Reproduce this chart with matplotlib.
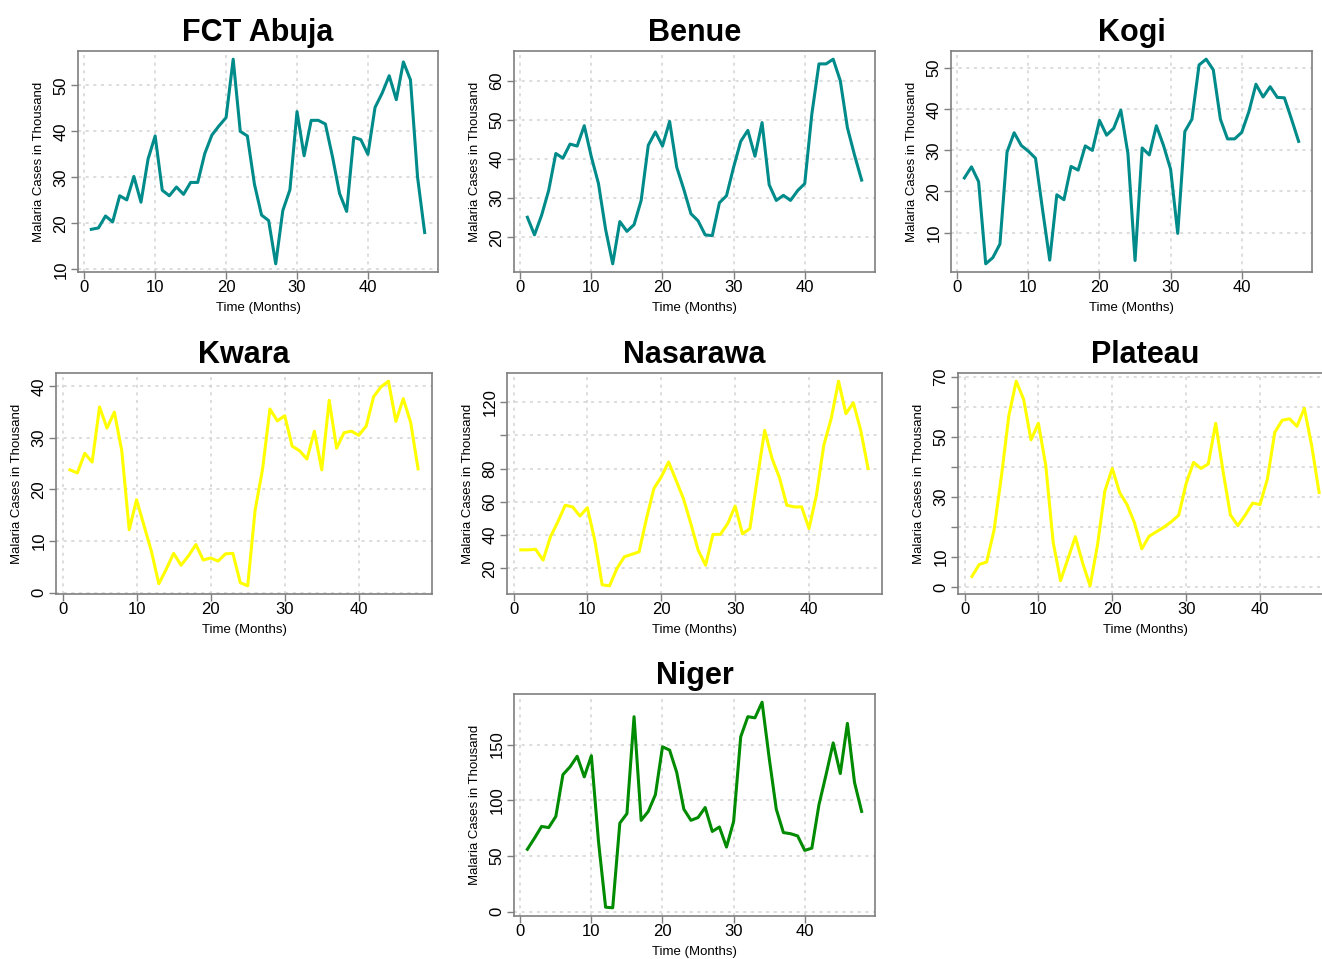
import numpy as np
import matplotlib
matplotlib.use("Agg")
import matplotlib.pyplot as plt

plt.rcParams["font.family"] = ["Liberation Sans", "DejaVu Sans"]

# monthly malaria cases (thousands), months 1..48
months = np.arange(1, 49)

fct_abuja = [18.7, 19.0, 21.6, 20.3, 26.0, 25.1, 30.2, 24.6, 34.0, 39.0,
             27.2, 26.0, 27.9, 26.3, 28.9, 28.9, 35.2, 39.2, 41.2, 43.0,
             55.7, 40.0, 39.0, 28.5, 21.8, 20.6, 11.2, 22.8, 27.3, 44.3,
             34.7, 42.4, 42.4, 41.6, 34.5, 26.5, 22.6, 38.7, 38.2, 35.0,
             45.2, 48.3, 52.1, 46.9, 55.1, 51.2, 30.0, 18.0]
benue = [25.1, 20.6, 25.6, 32.0, 41.4, 40.2, 43.8, 43.3, 48.5, 40.5,
         33.7, 22.0, 13.2, 24.0, 21.5, 23.2, 29.4, 43.5, 46.9, 43.3,
         49.6, 37.9, 32.2, 26.0, 24.2, 20.6, 20.4, 28.8, 30.6, 37.9,
         44.5, 47.3, 40.7, 49.3, 33.4, 29.4, 30.7, 29.4, 31.9, 33.7,
         51.5, 64.3, 64.3, 65.5, 60.0, 48.0, 41.0, 34.6]
kogi = [23.3, 26.0, 22.4, 2.4, 3.9, 7.2, 29.6, 34.3, 31.2, 29.8,
        28.1, 15.5, 3.3, 19.2, 18.0, 26.1, 25.2, 31.1, 30.0, 37.3,
        33.7, 35.4, 39.8, 29.2, 3.2, 30.6, 28.9, 36.0, 31.2, 25.4,
        9.8, 34.6, 37.6, 50.8, 52.2, 49.6, 37.6, 32.8, 32.8, 34.4,
        39.4, 46.1, 43.0, 45.5, 42.9, 42.8, 37.6, 32.2]
kwara = [23.8, 23.2, 27.0, 25.3, 36.0, 31.9, 35.0, 27.5, 12.2, 18.0,
         13.0, 8.0, 1.7, 4.5, 7.6, 5.3, 7.1, 9.3, 6.3, 6.7,
         6.1, 7.5, 7.6, 1.9, 1.3, 16.0, 23.9, 35.6, 33.3, 34.3,
         28.4, 27.5, 25.9, 31.3, 23.8, 37.3, 28.0, 31.0, 31.3, 30.5,
         32.3, 38.0, 39.9, 41.0, 33.2, 37.6, 33.0, 24.0]
nasarawa = [31.2, 31.2, 31.5, 25.0, 39.0, 48.0, 58.0, 57.0, 51.5, 56.5,
            37.0, 10.2, 9.6, 20.0, 27.0, 28.5, 30.0, 50.0, 68.0, 75.0,
            84.0, 73.0, 62.0, 47.0, 31.0, 22.0, 40.5, 40.5, 47.0, 57.5,
            40.8, 44.0, 74.0, 103.0, 86.0, 74.5, 58.0, 57.0, 57.0, 44.0,
            64.0, 94.0, 110.0, 132.5, 113.0, 119.5, 103.0, 80.0]
plateau = [3.6, 7.6, 8.4, 19.0, 37.0, 57.0, 68.5, 62.5, 49.0, 54.5,
           40.5, 15.0, 2.2, 9.5, 16.8, 8.0, 0.5, 14.0, 32.0, 39.5,
           31.5, 27.5, 21.5, 12.8, 17.0, 18.5, 20.0, 21.8, 24.0, 34.5,
           41.5, 39.5, 41.0, 54.5, 38.5, 24.0, 20.5, 24.0, 28.0, 27.5,
           36.0, 51.5, 55.5, 56.0, 53.5, 59.5, 47.0, 31.5]
niger = [56, 66, 76.5, 75.5, 85.5, 123, 130, 139.5, 121, 140,
         63, 4, 3.5, 79.5, 88, 175, 82, 90, 105, 148,
         145, 125, 92, 82, 84.5, 93.5, 72, 76, 58, 81,
         157, 175, 174, 188, 138, 92, 71, 70, 68, 55,
         57, 96, 123, 151.5, 124, 169, 116, 90]

teal = "#008B8B"
yellow = "#FFFF00"
green = "#008B00"

# (title, data, colour, y ticks, shown y tick labels, box in pixels L,R,T,B)
panels = [
    ("FCT Abuja", fct_abuja, teal, [10, 20, 30, 40, 50], None, (78, 438, 51, 272)),
    ("Benue", benue, teal, [20, 30, 40, 50, 60], None, (514, 875, 51, 272)),
    ("Kogi", kogi, teal, [10, 20, 30, 40, 50], None, (951, 1312, 51, 272)),
    ("Kwara", kwara, yellow, [0, 10, 20, 30, 40], None, (56, 432, 373, 594)),
    ("Nasarawa", nasarawa, yellow, [20, 40, 60, 80, 100, 120],
     [20, 40, 60, 80, 120], (507, 882, 373, 594)),
    ("Plateau", plateau, yellow, [0, 10, 20, 30, 40, 50, 60, 70],
     [0, 10, 30, 50, 70], (958, 1333, 373, 594)),
    ("Niger", niger, green, [0, 50, 100, 150], None, (514, 875, 694, 916)),
]

W, H = 1322, 959
fig = plt.figure(figsize=(W / 100, H / 100), dpi=100)

for title, data, col, yt, shown, (l, r, t, b) in panels:
    ax = fig.add_axes([l / W, (H - b) / H, (r - l) / W, (b - t) / H])
    ax.plot(months, data, color=col, lw=2.2)
    ax.margins(x=0.04, y=0.04)
    ax.set_xticks([0, 10, 20, 30, 40])
    ax.set_yticks(yt)
    labels = [str(v) if (shown is None or v in shown) else "" for v in yt]
    ax.set_yticklabels(labels, rotation=90, va="center")
    ax.grid(True, color="#D3D3D3", linestyle=(0, (2, 3)), lw=1.1)
    for s in ax.spines.values():
        s.set_color("#7F7F7F")
        s.set_linewidth(1.2)
    ax.tick_params(colors="#7F7F7F", labelcolor="black", labelsize=12,
                   length=5, width=1)
    ax.tick_params(axis="x", pad=0.5)
    ax.tick_params(axis="y", pad=2)
    ax.set_title(title, fontsize=22, fontweight="bold", pad=7)
    ax.set_xlabel("Time (Months)", fontsize=9.5, labelpad=5)
    ax.set_ylabel("Malaria Cases in Thousand", fontsize=9.5, labelpad=6)

fig.savefig("out.png", dpi=100)
